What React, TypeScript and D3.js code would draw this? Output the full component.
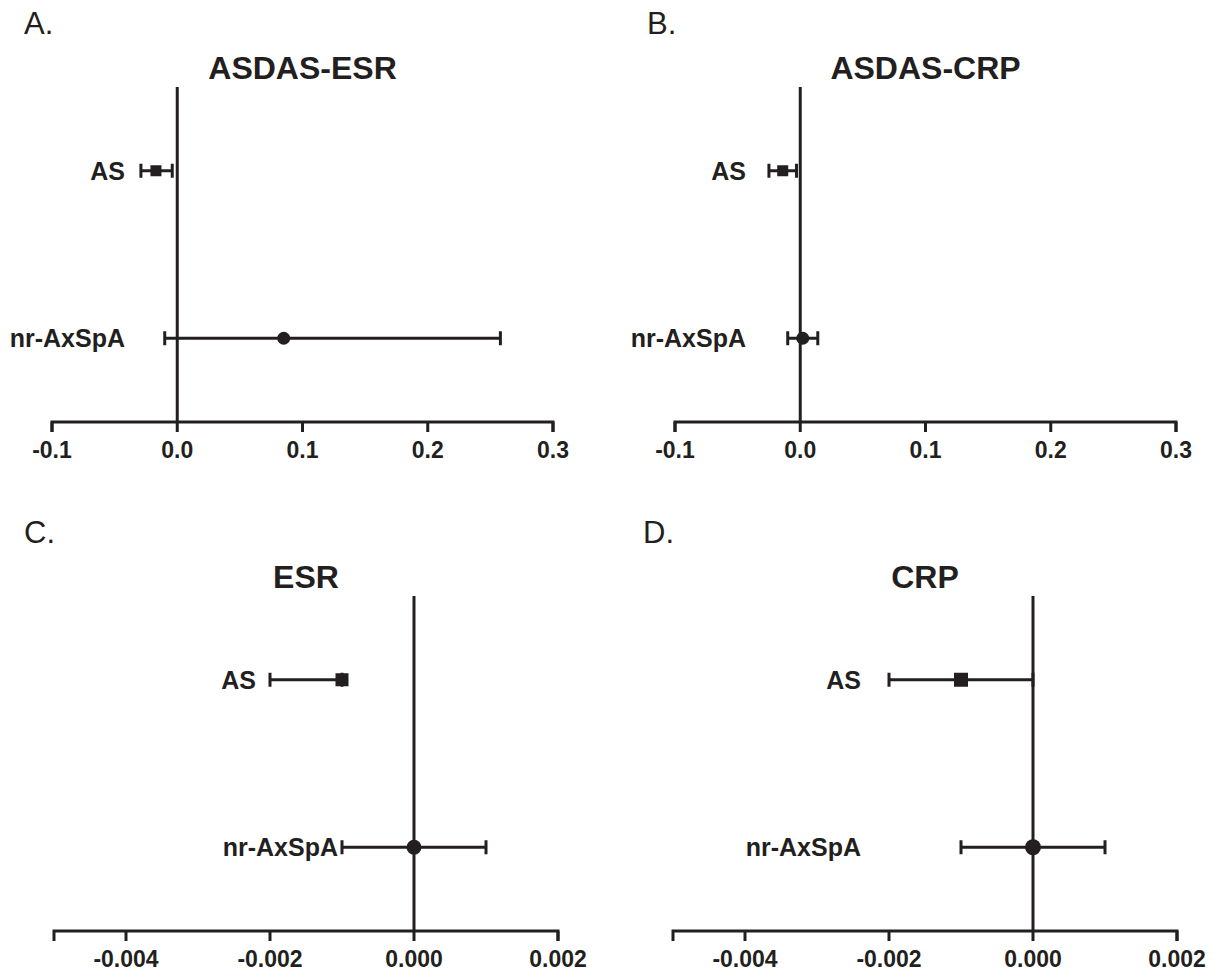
import React, { useEffect, useRef } from 'react';
import * as d3 from 'd3';

// rows of every forest plot
const groups = ['AS', 'nr-AxSpA'];

// ASDAS-ESR: estimate and 95% CI
const asdasEsrMean = [-0.017, 0.085];
const asdasEsrLow = [-0.029, -0.010];
const asdasEsrHigh = [-0.004, 0.258];

// ASDAS-CRP
const asdasCrpMean = [-0.014, 0.002];
const asdasCrpLow = [-0.025, -0.010];
const asdasCrpHigh = [-0.003, 0.014];

// ESR
const esrMean = [-0.001, 0.0];
const esrLow = [-0.002, -0.001];
const esrHigh = [-0.001, 0.001];

// CRP
const crpMean = [-0.001, 0.0];
const crpLow = [-0.002, -0.001];
const crpHigh = [0.0, 0.001];

const asdasTicks = [-0.1, 0, 0.1, 0.2, 0.3];
const asdasTickLabels = ['-0.1', '0.0', '0.1', '0.2', '0.3'];
const labTicks = [-0.004, -0.002, 0, 0.002];
const labTickLabels = ['-0.004', '-0.002', '0.000', '0.002'];

const ink = '#231f20';
const font = 'Arial, "Liberation Sans", Helvetica, sans-serif';

const panels = [
    { letter: 'A.', title: 'ASDAS-ESR', mean: asdasEsrMean, low: asdasEsrLow, high: asdasEsrHigh,
      domain: [-0.1, 0.3], ticks: asdasTicks, tickLabels: asdasTickLabels,
      ox: 0, oy: 0, x0: 52, x1: 553, labelX: [125, 125], marker: 11 },
    { letter: 'B.', title: 'ASDAS-CRP', mean: asdasCrpMean, low: asdasCrpLow, high: asdasCrpHigh,
      domain: [-0.1, 0.3], ticks: asdasTicks, tickLabels: asdasTickLabels,
      ox: 623, oy: 0, x0: 52, x1: 553, labelX: [123, 123], marker: 11 },
    { letter: 'C.', title: 'ESR', mean: esrMean, low: esrLow, high: esrHigh,
      domain: [-0.005, 0.002], ticks: labTicks, tickLabels: labTickLabels,
      ox: 0, oy: 509, x0: 54, x1: 558, labelX: [256, 338], marker: 13 },
    { letter: 'D.', title: 'CRP', mean: crpMean, low: crpLow, high: crpHigh,
      domain: [-0.005, 0.002], ticks: labTicks, tickLabels: labTickLabels,
      ox: 619, oy: 509, x0: 54, x1: 558, labelX: [242, 242], marker: 14 },
];

function drawPanel(svg, p) {
    const top = 87;
    const axisY = 422;

    const g = svg.append('g').attr('transform', `translate(${p.ox},${p.oy})`);

    const x = d3.scaleLinear().domain(p.domain).range([p.x0, p.x1]);
    const y = d3.scalePoint().domain(groups).range([top, axisY]).padding(0.5);

    g.append('text')
        .attr('x', 24).attr('y', 34)
        .attr('font-size', 31).attr('fill', ink)
        .text(p.letter);

    g.append('text')
        .attr('x', (p.x0 + p.x1) / 2).attr('y', 79)
        .attr('text-anchor', 'middle')
        .attr('font-size', 32).attr('font-weight', 'bold').attr('fill', ink)
        .text(p.title);

    // zero line
    g.append('line')
        .attr('x1', x(0)).attr('x2', x(0))
        .attr('y1', top).attr('y2', axisY)
        .attr('stroke', ink).attr('stroke-width', 3);

    // x axis
    const tickLen = 10;
    g.append('path')
        .attr('d', `M${x(p.domain[0])},${axisY + tickLen}V${axisY}H${x(p.domain[1])}V${axisY + tickLen}`)
        .attr('fill', 'none').attr('stroke', ink).attr('stroke-width', 3);

    g.selectAll('.tick')
        .data(p.ticks)
        .enter()
        .append('line')
        .attr('x1', d => x(d)).attr('x2', d => x(d))
        .attr('y1', axisY).attr('y2', axisY + tickLen)
        .attr('stroke', ink).attr('stroke-width', 3);

    g.selectAll('.tickLabel')
        .data(p.ticks)
        .enter()
        .append('text')
        .attr('x', d => x(d)).attr('y', 458)
        .attr('text-anchor', 'middle')
        .attr('font-size', 23).attr('font-weight', 'bold').attr('fill', ink)
        .text((d, i) => p.tickLabels[i]);

    const rows = groups.map((name, i) => ({ name, i, mean: p.mean[i], low: p.low[i], high: p.high[i] }));

    // whiskers
    g.selectAll('.ci')
        .data(rows)
        .enter()
        .append('path')
        .attr('d', d => {
            const yy = y(d.name);
            const cap = 7;
            return `M${x(d.low)},${yy}H${x(d.high)}` +
                `M${x(d.low)},${yy - cap}V${yy + cap}` +
                `M${x(d.high)},${yy - cap}V${yy + cap}`;
        })
        .attr('fill', 'none').attr('stroke', ink).attr('stroke-width', 3);

    // markers: square for AS, circle for nr-AxSpA
    const s = p.marker;
    g.selectAll('.sq')
        .data(rows.filter(d => d.i === 0))
        .enter()
        .append('rect')
        .attr('x', d => x(d.mean) - s / 2).attr('y', d => y(d.name) - s / 2)
        .attr('width', s).attr('height', s)
        .attr('fill', ink);

    g.selectAll('.dot')
        .data(rows.filter(d => d.i === 1))
        .enter()
        .append('circle')
        .attr('cx', d => x(d.mean)).attr('cy', d => y(d.name))
        .attr('r', s / 2 + 1)
        .attr('fill', ink);

    g.selectAll('.rowLabel')
        .data(rows)
        .enter()
        .append('text')
        .attr('x', d => p.labelX[d.i]).attr('y', d => y(d.name) + 9)
        .attr('text-anchor', 'end')
        .attr('font-size', 25).attr('font-weight', 'bold').attr('fill', ink)
        .text(d => d.name);
}

const App = () => {
    const ref = useRef(null);

    useEffect(() => {
        const svg = d3.select(ref.current);
        svg.selectAll('*').remove();
        panels.forEach(p => drawPanel(svg, p));
    }, []);

    return (
        <svg ref={ref} width={1214} height={972}
            style={{ position: 'absolute', left: 0, top: 0, background: '#fff', fontFamily: font }} />
    );
};

export default App;
